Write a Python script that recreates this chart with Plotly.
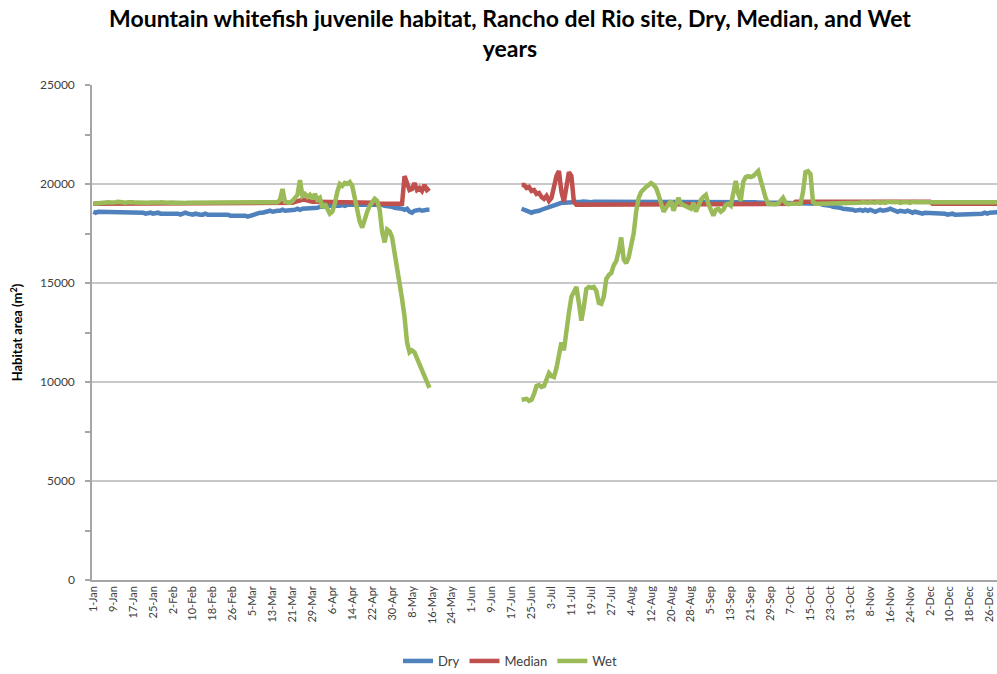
import plotly.graph_objects as go

# Day-of-year categories (leap year: 366 days)
MONTHS = ["Jan", "Feb", "Mar", "Apr", "May", "Jun",
          "Jul", "Aug", "Sep", "Oct", "Nov", "Dec"]
DAYS_IN_MONTH = [31, 29, 31, 30, 31, 30, 31, 31, 30, 31, 30, 31]
days = [f"{d}-{m}" for m, n in zip(MONTHS, DAYS_IN_MONTH) for d in range(1, n + 1)]
tick_labels = days[::8]

# No modelled values between 16-May and 20-Jun
GAP = [None, None, None, None, None, None, None, None, None, None, None, None,
       None, None, None, None, None, None, None, None, None, None, None, None,
       None, None, None, None, None, None, None, None, None, None, None, None]

# ---- Dry year habitat area (m2) ----
dry_spring = [
    18600, 18550, 18600, 18600, 18550, 18600, 18600, 18550, 18550, 18600,
    18550, 18550, 18600, 18550, 18550, 18550, 18600, 18550, 18550, 18550,
    18550, 18500, 18550, 18550, 18500, 18550, 18550, 18500, 18500, 18550,
    18500, 18500, 18500, 18550, 18500, 18450, 18500, 18550, 18500, 18450,
    18450, 18500, 18450, 18450, 18450, 18500, 18450, 18450, 18450, 18450,
    18450, 18450, 18500, 18450, 18450, 18400, 18400, 18450, 18400, 18400,
    18400, 18400, 18350, 18400, 18400, 18450, 18500, 18550, 18550, 18600,
    18600, 18650, 18600, 18650, 18650, 18650, 18700, 18650, 18650, 18700,
    18700, 18700, 18750, 18700, 18750, 18750, 18800, 18750, 18800, 18800,
    18800, 18850, 18850, 18800, 18850, 18900, 18900, 18850, 18900, 18900,
    18950, 18900, 18950, 18950, 18950, 18950, 19000, 18950, 18950, 18950,
    18950, 18950, 19000, 18950, 18950, 18950, 18950, 18900, 18900, 18900,
    18850, 18800, 18800, 18750, 18750, 18700, 18750, 18600, 18550, 18650,
    18700, 18700, 18650, 18700, 18700, 18700,
]
dry_summer = [
    18750, 18700, 18650, 18550, 18550, 18600, 18600, 18650, 18700, 18750,
    18800, 18850, 18900, 18950, 19000, 19000, 19050, 19050, 19050, 19100,
    19100, 19100, 19080, 19100, 19100, 19120, 19100, 19100, 19080, 19100,
    19100, 19100, 19120, 19100, 19100, 19080, 19100, 19100, 19100, 19120,
    19100, 19100, 19100, 19080, 19100, 19100, 19120, 19100, 19100, 19100,
    19100, 19080, 19100, 19100, 19100, 19120, 19100, 19100, 19100, 19080,
    19100, 19100, 19100, 19120, 19100, 19100, 19100, 19080, 19100, 19100,
    19100, 19100, 19120, 19100, 19100, 19080, 19100, 19100, 19100, 19100,
    19100, 19100, 19080, 19100, 19100, 19100, 19100, 19080, 19100, 19100,
    19100, 19080, 19100, 19080, 19080, 19060, 19050, 19050, 19050, 19050,
    19050, 19050, 19050, 19050, 19050, 19050, 19050, 19050, 19050, 19050,
    19050, 19050, 19050, 19050, 19050, 19050, 19050, 19050, 19050, 19050,
    19000, 18950, 18950, 18900, 18900, 18850, 18850, 18800, 18800, 18750,
    18750, 18700, 18750, 18700, 18650, 18700, 18700, 18650, 18700, 18650,
    18700, 18650, 18600, 18650, 18700, 18650, 18650, 18700, 18750, 18700,
    18650, 18600, 18650, 18600, 18600, 18650, 18600, 18550, 18600, 18550,
    18550, 18500, 18550, 18550, 18500, 18500, 18550, 18500, 18500, 18500,
    18500, 18450, 18500, 18500, 18450, 18450, 18500, 18450, 18450, 18500,
    18450, 18450, 18500, 18450, 18500, 18500, 18550, 18500, 18550, 18550,
    18600, 18550, 18600, 18600,
]

# ---- Median year habitat area (m2) ----
median_spring = [
    19000, 19000, 19000, 19000, 19000, 19000, 19000, 19000, 19000, 19000,
    19000, 19000, 19000, 19000, 19000, 19000, 19000, 19000, 19000, 19000,
    19000, 19000, 19000, 19000, 19000, 19000, 19000, 19000, 19000, 19000,
    19000, 19000, 19000, 19000, 19000, 19000, 19000, 19000, 19000, 19000,
    19000, 19000, 19000, 19000, 19000, 19000, 19000, 19000, 19000, 19000,
    19000, 19000, 19000, 19000, 19000, 19000, 19000, 19000, 19000, 19000,
    19000, 19000, 19000, 19000, 19000, 19000, 19000, 19000, 19000, 19000,
    19000, 19000, 19000, 19000, 19000, 19000, 19000, 19000, 19000, 19000,
    19050, 19100, 19150, 19200, 19200, 19200, 19150, 19150, 19100, 19100,
    19100, 19100, 19100, 19100, 19100, 19100, 19100, 19100, 19100, 19100,
    19100, 19100, 19080, 19080, 19050, 19050, 19050, 19050, 19050, 19050,
    19050, 19050, 19050, 19050, 19000, 19000, 19000, 19000, 18950, 18950,
    18950, 18950, 18950, 18950, 19000, 20400, 20100, 19700, 19750, 20050,
    19700, 19800, 19650, 19950, 19700, 19800,
]
median_summer = [
    19950, 19950, 19800, 19850, 19650, 19700, 19500, 19550, 19350, 19250,
    19400, 19150, 19300, 19900, 20400, 20650, 19600, 19100, 19900, 20600,
    20400, 19100, 18950, 18950, 18950, 18950, 18950, 18950, 18950, 18950,
    18950, 18950, 18950, 18950, 18950, 18950, 18950, 18950, 18950, 18950,
    18950, 18950, 18950, 18950, 18950, 18950, 18950, 18950, 18950, 18950,
    18950, 18950, 18950, 18950, 18950, 18950, 18950, 18950, 18950, 18950,
    18950, 18950, 18950, 18950, 18950, 18950, 18950, 18950, 18950, 18950,
    18950, 18950, 18950, 18950, 18950, 18950, 18950, 18950, 18950, 18950,
    18950, 18950, 18950, 18950, 18950, 18950, 18950, 18950, 18950, 18950,
    19000, 19000, 19000, 19000, 19000, 19000, 19000, 19000, 19000, 19000,
    19000, 19000, 19000, 19000, 19000, 19000, 19000, 19000, 19000, 19000,
    19100, 19100, 19100, 19100, 19100, 19100, 19100, 19100, 19100, 19100,
    19100, 19100, 19100, 19100, 19100, 19100, 19100, 19100, 19100, 19100,
    19100, 19100, 19100, 19100, 19100, 19100, 19100, 19100, 19100, 19100,
    19100, 19100, 19100, 19100, 19100, 19100, 19100, 19100, 19100, 19100,
    19100, 19100, 19100, 19100, 19100, 19100, 19100, 19100, 19100, 19100,
    19100, 19100, 19100, 19100, 19100, 19000, 19000, 19000, 19000, 19000,
    19000, 19000, 19000, 19000, 19000, 19000, 19000, 19000, 19000, 19000,
    19000, 19000, 19000, 19000, 19000, 19000, 19000, 19000, 19000, 19000,
    19000, 19000, 19000, 19000,
]

# ---- Wet year habitat area (m2) ----
wet_spring = [
    19000, 19020, 19050, 19060, 19080, 19100, 19080, 19070, 19060, 19080,
    19100, 19080, 19060, 19050, 19080, 19100, 19080, 19060, 19050, 19060,
    19080, 19060, 19050, 19060, 19050, 19050, 19060, 19080, 19060, 19050,
    19050, 19060, 19050, 19050, 19060, 19050, 19050, 19040, 19050, 19050,
    19060, 19050, 19050, 19050, 19040, 19050, 19060, 19050, 19050, 19050,
    19050, 19040, 19050, 19050, 19060, 19050, 19050, 19050, 19040, 19050,
    19050, 19050, 19060, 19080, 19050, 19050, 19050, 19040, 19050, 19050,
    19050, 19050, 19060, 19050, 19080, 19200, 19750, 19100, 19100, 19050,
    19150, 19300, 19450, 20200, 19400, 19500, 19350, 19450, 19250, 19500,
    19200, 19300, 18800, 19000, 18700, 18500, 18600, 19000, 19600, 20000,
    19900, 20050, 20000, 20100, 19900, 19300, 18700, 18100, 17800, 18300,
    18600, 18900, 19100, 19250, 19150, 18700, 17600, 17050, 17700, 17600,
    17300, 16600, 15800, 15000, 14200, 13300, 12000, 11500, 11600, 11500,
    11200, 10900, 10600, 10300, 9900, 9700,
]
wet_summer = [
    9100, 9150, 9150, 9050, 9100, 9400, 9800, 9850, 9750, 9800,
    10100, 10450, 10300, 10250, 10700, 11300, 12000, 11600, 12700, 13500,
    14300, 14600, 14800, 14000, 13100, 13800, 14700, 14800, 14750, 14800,
    14600, 14000, 13950, 14300, 15200, 15400, 15500, 15900, 16100, 16600,
    17300, 16200, 16000, 16300, 16800, 17500, 18600, 19300, 19600, 19750,
    19850, 19950, 20050, 19950, 19800, 19450, 19000, 18600, 18800, 19000,
    19150, 18650, 19000, 19300, 19000, 18950, 18900, 18800, 18750, 19050,
    18600, 18900, 19200, 19350, 19450, 19000, 18700, 18400, 18700, 18750,
    18600, 18700, 18950, 19000, 18900, 19500, 20150, 19500, 19150, 20100,
    20350, 20400, 20350, 20400, 20500, 20650, 20200, 19700, 19300, 19000,
    18980, 19000, 18980, 19000, 19150, 19300, 19050, 18980, 19000, 19000,
    19000, 19000, 19000, 19600, 20600, 20650, 20500, 19100, 19000, 19000,
    19000, 19000, 19020, 19000, 19000, 19050, 19000, 19000, 19050, 19000,
    19000, 19000, 19050, 19000, 19050, 19000, 19050, 19080, 19050, 19050,
    19080, 19050, 19050, 19100, 19050, 19080, 19050, 19100, 19080, 19050,
    19080, 19100, 19050, 19080, 19100, 19080, 19050, 19100, 19080, 19080,
    19100, 19080, 19050, 19080, 19100, 19080, 19080, 19100, 19050, 19080,
    19080, 19100, 19080, 19050, 19080, 19100, 19080, 19080, 19100, 19080,
    19080, 19050, 19080, 19100, 19080, 19080, 19100, 19080, 19080, 19050,
    19080, 19100, 19080, 19080,
]

dry = dry_spring + GAP + dry_summer
median = median_spring + GAP + median_summer
wet = wet_spring + GAP + wet_summer

SERIES = [("Dry", dry, "#4F81BD"), ("Median", median, "#C0504D"), ("Wet", wet, "#9BBB59")]

FONT = "Lato, 'Open Sans', sans-serif"

fig = go.Figure()
for name, values, color in SERIES:
    fig.add_trace(go.Scatter(
        x=days, y=values, name=name, mode="lines",
        line=dict(color=color, width=4.5),
        connectgaps=False,
    ))

fig.update_layout(
    width=997, height=674,
    margin=dict(l=92, r=0, t=85, b=94),
    paper_bgcolor="white", plot_bgcolor="white",
    font=dict(family=FONT, size=11, color="#404040"),
    title=dict(
        text="Mountain whitefish juvenile habitat, Rancho del Rio site, Dry, Median, and Wet<br>years",
        x=510 / 997, xanchor="center", xref="container",
        y=1 - 27 / 674, yanchor="middle", yref="container",
        font=dict(family=FONT, size=23, color="#000000", weight="bold"),
    ),
    showlegend=True,
    legend=dict(
        orientation="h", xref="container", yref="container",
        x=510 / 997, xanchor="center", y=1 - 661 / 674, yanchor="middle",
        font=dict(family=FONT, size=13, color="#404040"),
        itemwidth=30, tracegroupgap=0,
    ),
)

fig.update_xaxes(
    type="category",
    categoryorder="array", categoryarray=days,
    range=[-0.5, 362.9],
    tickmode="array", tickvals=tick_labels, ticktext=tick_labels,
    tickangle=-90,
    tickfont=dict(family=FONT, size=11, color="#404040"),
    showgrid=False, zeroline=False,
    showline=True, linecolor="#A6A6A6", linewidth=1.5,
    ticks="",
)

fig.update_yaxes(
    range=[0, 25000], dtick=5000, tick0=0,
    tickformat="d",
    tickfont=dict(family=FONT, size=12, color="#404040"),
    showgrid=True, gridcolor="#C8C8C8", gridwidth=1.5,
    zeroline=False,
    showline=True, linecolor="#A6A6A6", linewidth=1.5,
    ticks="outside", ticklen=5, tickcolor="#A6A6A6", tickwidth=1.5,
    ticklabelstandoff=8,
    minor=dict(dtick=2500, ticks="outside", ticklen=5, tickcolor="#A6A6A6",
               tickwidth=1.5, showgrid=False),
    title=dict(text="Habitat area (m<sup>2</sup>)", standoff=14,
               font=dict(family=FONT, size=13, color="#000000", weight="bold")),
)

fig.write_html("out.html")
